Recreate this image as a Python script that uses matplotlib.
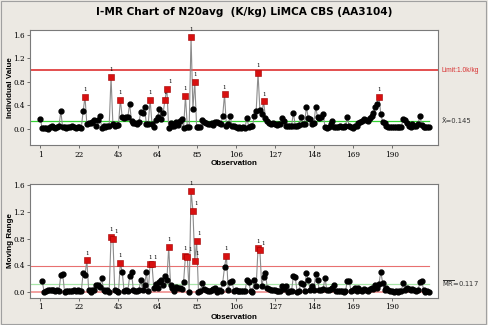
import numpy as np
import matplotlib
matplotlib.use("Agg")
import matplotlib.pyplot as plt
from matplotlib.patches import Rectangle

# ---------------- data ----------------
individual_values = [
    0.17, 0.01, 0.01, 0.02, 0.00, 0.03, 0.05, 0.03, 0.02, 0.04,   # 1-10
    0.05, 0.30, 0.03, 0.03, 0.02, 0.03, 0.04, 0.05, 0.03, 0.02,   # 11-20
    0.04, 0.03, 0.02, 0.30, 0.55, 0.08, 0.10, 0.10, 0.12, 0.15,   # 21-30
    0.05, 0.15, 0.22, 0.02, 0.05, 0.04, 0.06, 0.06, 0.88, 0.08,   # 31-40
    0.06, 0.07, 0.07, 0.50, 0.20, 0.19, 0.21, 0.20, 0.43, 0.13,   # 41-50
    0.11, 0.10, 0.09, 0.12, 0.29, 0.27, 0.37, 0.08, 0.09, 0.50,   # 51-60
    0.09, 0.04, 0.15, 0.20, 0.34, 0.17, 0.27, 0.50, 0.68, 0.01,   # 61-70
    0.11, 0.06, 0.05, 0.12, 0.07, 0.13, 0.17, 0.02, 0.56, 0.04,   # 71-80
    0.04, 1.56, 0.34, 0.80, 0.04, 0.04, 0.03, 0.16, 0.12, 0.10,   # 81-90
    0.09, 0.08, 0.11, 0.07, 0.12, 0.12, 0.10, 0.09, 0.22, 0.59,   # 91-100
    0.05, 0.08, 0.22, 0.06, 0.05, 0.03, 0.02, 0.03, 0.02, 0.03,   # 101-110
    0.02, 0.19, 0.04, 0.05, 0.05, 0.22, 0.30, 0.95, 0.33, 0.25,   # 111-120
    0.47, 0.19, 0.14, 0.10, 0.08, 0.11, 0.08, 0.07, 0.08, 0.09,   # 121-130
    0.18, 0.14, 0.05, 0.05, 0.06, 0.05, 0.28, 0.06, 0.06, 0.07,   # 131-140
    0.20, 0.08, 0.09, 0.37, 0.19, 0.17, 0.08, 0.10, 0.37, 0.20,   # 141-150
    0.18, 0.21, 0.25, 0.04, 0.02, 0.04, 0.08, 0.14, 0.04, 0.03,   # 151-160
    0.04, 0.05, 0.04, 0.04, 0.05, 0.21, 0.05, 0.04, 0.01, 0.06,   # 161-170
    0.05, 0.10, 0.12, 0.13, 0.17, 0.15, 0.14, 0.18, 0.23, 0.27,   # 171-180
    0.37, 0.43, 0.55, 0.25, 0.12, 0.10, 0.05, 0.03, 0.04, 0.03,   # 181-190
    0.03, 0.04, 0.04, 0.03, 0.04, 0.17, 0.15, 0.10, 0.06, 0.04,   # 191-200
    0.08, 0.05, 0.06, 0.08, 0.23, 0.07, 0.04, 0.04, 0.03, 0.03,   # 201-210
]
x_ticks = [1, 22, 43, 64, 85, 106, 127, 148, 169, 190]
y_ticks = [0.0, 0.4, 0.8, 1.2, 1.6]
spec_limit = 1.0
x_bar = 0.145
mr_bar = 0.117

title = "I-MR Chart of N20avg  (K/kg) LiMCA CBS (AA3104)"

# ---------------- derived ----------------
iv = np.array(individual_values)
obs = np.arange(1, len(iv) + 1)
mr = np.abs(np.diff(iv))
obs_mr = obs[1:]
ucl_i = x_bar + 2.66 * mr_bar
ucl_mr = 3.267 * mr_bar

W, H = 488, 325
fig = plt.figure(figsize=(W / 100, H / 100), dpi=100)
bg = "#ECE9E3"
fig.patch.set_facecolor(bg)
fig.patches.append(Rectangle((0.002, 0.004), 0.994, 0.992, transform=fig.transFigure,
                             fill=False, edgecolor="#A0A0A0", lw=0.8))

def fx(px):
    return px / W

def fy(py):
    return 1 - py / H

left, right = 30.3, 438.3
ax1 = fig.add_axes([fx(left), fy(145), fx(right - left), (145 - 30) / H])
ax2 = fig.add_axes([fx(left), fy(297.7), fx(right - left), (297.7 - 184) / H])

xlim = (-4.4, 214.9)
line_col = "#8C8C8C"
red_pt = "#D81010"
tick_fs = 5.2
lab_fs = 5.8
lab_font = "Liberation Sans"

def style(ax, xlab_y):
    ax.set_facecolor("white")
    for s in ax.spines.values():
        s.set_color("#7A7A7A")
        s.set_linewidth(0.8)
    ax.set_xlim(*xlim)
    ax.set_xticks(x_ticks)
    ax.set_xticklabels([str(t) for t in x_ticks], fontsize=tick_fs, family="DejaVu Serif")
    ax.set_yticks(y_ticks)
    ax.set_yticklabels([f"{t:.1f}" for t in y_ticks], fontsize=tick_fs, family="DejaVu Serif")
    ax.tick_params(length=2.5, width=0.6, color="#555555", pad=1.5)
    ax.set_xlabel("Observation", fontsize=lab_fs, fontweight="bold", family=lab_font)
    ax.xaxis.set_label_coords(0.499, xlab_y)

def flag_labels(ax, xs, ys):
    prev = None
    for xo, yo in zip(xs, ys):
        dx = 2.0 if (prev is not None and xo - prev == 1) else 0
        ax.annotate("1", (xo, yo), xytext=(dx, 3.4), textcoords="offset points",
                    ha="center", va="bottom", fontsize=4, family="DejaVu Serif")
        prev = xo

# ---------- I chart ----------
style(ax1, -0.13)
ax1.set_ylim(-0.27, 1.68)
ax1.axhline(spec_limit, color="#E04040", lw=1.3, zorder=1)
ax1.plot([xlim[0], obs[-1]], [x_bar, x_bar], color="#33D233", lw=0.9, zorder=1)
ax1.plot(obs, iv, color=line_col, lw=0.8, zorder=2)
flag_i = iv > ucl_i
ax1.plot(obs[~flag_i], iv[~flag_i], "o", color="black", ms=3.5, zorder=3)
ax1.plot(obs[flag_i], iv[flag_i], "s", color=red_pt, mec="#A00000", mew=0.4, ms=4.3, zorder=4)
flag_labels(ax1, obs[flag_i], iv[flag_i])
ax1.set_ylabel("Individual Value", fontsize=lab_fs, fontweight="bold", family=lab_font)
ax1.yaxis.set_label_coords(-0.04, 0.496)
ax1.text(1.008, spec_limit, "Limit:1.0k/kg", transform=ax1.get_yaxis_transform(),
         color="#D83030", fontsize=4.8, va="center", ha="left", family=lab_font)
ax1.text(1.008, x_bar, "X\u0304=0.145", transform=ax1.get_yaxis_transform(),
         color="#333333", fontsize=4.9, va="center", ha="left", family="DejaVu Sans")

# ---------- MR chart ----------
style(ax2, -0.143)
ax2.set_ylim(-0.09, 1.62)
ax2.plot([xlim[0], obs[-1]], [ucl_mr, ucl_mr], color="#E87070", lw=0.8, zorder=1)
ax2.plot([xlim[0], obs[-1]], [mr_bar, mr_bar], color="#A8E6A8", lw=0.9, zorder=1)
ax2.plot([xlim[0], obs[-1]], [0, 0], color="#F09090", lw=1.2, zorder=1)
ax2.plot(obs_mr, mr, color=line_col, lw=0.8, zorder=2)
flag_mr = mr > ucl_mr
ax2.plot(obs_mr[~flag_mr], mr[~flag_mr], "o", color="black", ms=3.5, zorder=3)
ax2.plot(obs_mr[flag_mr], mr[flag_mr], "s", color=red_pt, mec="#A00000", mew=0.4, ms=4.3, zorder=4)
flag_labels(ax2, obs_mr[flag_mr], mr[flag_mr])
ax2.set_ylabel("Moving Range", fontsize=lab_fs, fontweight="bold", family=lab_font)
ax2.yaxis.set_label_coords(-0.04, 0.5)
ax2.text(1.008, mr_bar, r"$\overline{\mathrm{MR}}$=0.117", transform=ax2.get_yaxis_transform(),
         color="#333333", fontsize=4.9, va="center", ha="left", family="DejaVu Sans")

fig.text(0.5, fy(12), title, ha="center", va="center", fontsize=7.6, fontweight="bold")

fig.savefig("out.png", dpi=100, facecolor=bg)
